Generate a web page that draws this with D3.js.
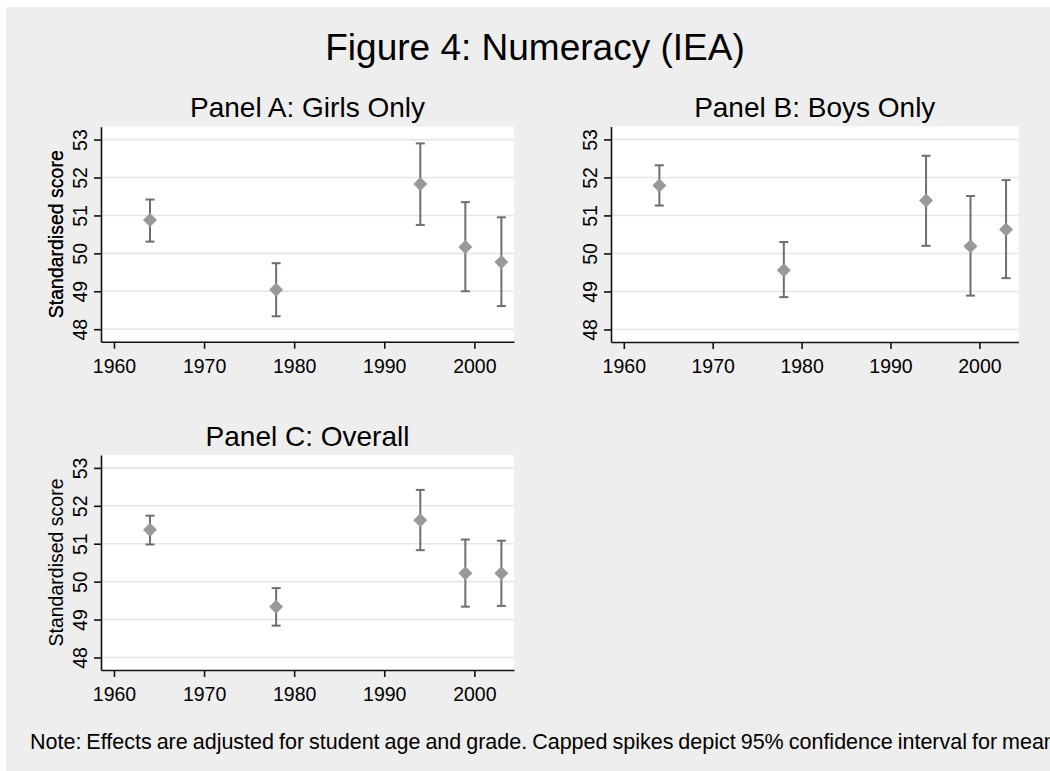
<!DOCTYPE html>
<html>
<head>
<meta charset="utf-8">
<script src="https://cdn.jsdelivr.net/npm/d3@7"></script>
<style>
  html, body { margin: 0; padding: 0; background: #ffffff; }
  svg { display: block; font-family: "Liberation Sans", Arial, sans-serif; }
</style>
</head>
<body>
<svg id="chart"></svg>
<script>
// data
const years = [1964, 1978, 1994, 1999, 2003];
const panelTitles = ["Panel A: Girls Only", "Panel B: Boys Only", "Panel C: Overall"];

const girlsMean = [50.88, 49.04, 51.83, 50.17, 49.77];
const girlsLow  = [50.31, 48.34, 50.75, 49.00, 48.61];
const girlsHigh = [51.42, 49.74, 52.90, 51.35, 50.95];

const boysMean = [51.79, 49.56, 51.39, 50.19, 50.63];
const boysLow  = [51.26, 48.85, 50.20, 48.89, 49.35];
const boysHigh = [52.32, 50.30, 52.57, 51.51, 51.93];

const allMean = [51.37, 49.34, 51.62, 50.22, 50.22];
const allLow  = [50.98, 48.84, 50.83, 49.34, 49.36];
const allHigh = [51.74, 49.83, 52.42, 51.11, 51.08];

const yTicks = [48, 49, 50, 51, 52, 53];
const xTicks = [1960, 1970, 1980, 1990, 2000];

const width = 1050;
const height = 771;

const svg = d3.select("#chart")
  .attr("width", width)
  .attr("height", height);

// outer gray region
svg.append("rect")
  .attr("x", 6)
  .attr("y", 7)
  .attr("width", width)
  .attr("height", height)
  .attr("fill", "#eeeeee");

svg.append("text")
  .attr("x", 535)
  .attr("y", 60)
  .attr("text-anchor", "middle")
  .style("font-size", "37px")
  .style("fill", "#000")
  .text("Figure 4: Numeracy (IEA)");

// plot boxes for each panel
const panels = [
  { title: panelTitles[0], mean: girlsMean, low: girlsLow, high: girlsHigh, left: 101, top: 126.7, w: 413, h: 215 },
  { title: panelTitles[1], mean: boysMean, low: boysLow, high: boysHigh, left: 611, top: 126.5, w: 407.5, h: 215.5 },
  { title: panelTitles[2], mean: allMean, low: allLow, high: allHigh, left: 101, top: 455, w: 413, h: 215 }
];

panels.forEach(p => {
  const xScale = d3.scaleLinear()
    .domain([1958.56, 2004.4])
    .range([p.left, p.left + p.w]);
  const yScale = d3.scaleLinear()
    .domain([47.67, 53.34])
    .range([p.top + p.h, p.top]);

  const g = svg.append("g");

  g.append("rect")
    .attr("x", p.left)
    .attr("y", p.top)
    .attr("width", p.w)
    .attr("height", p.h)
    .attr("fill", "#ffffff");

  //gridlines
  g.selectAll(".grid")
    .data(yTicks)
    .enter()
    .append("line")
    .attr("x1", p.left)
    .attr("x2", p.left + p.w)
    .attr("y1", d => yScale(d))
    .attr("y2", d => yScale(d))
    .attr("stroke", "#e6e6e6")
    .attr("stroke-width", 1.6);

  //axes
  const yAxis = d3.axisLeft(yScale)
    .tickValues(yTicks)
    .tickFormat(d3.format("d"))
    .tickSizeInner(7)
    .tickSizeOuter(0);
  const xAxis = d3.axisBottom(xScale)
    .tickValues(xTicks)
    .tickFormat(d3.format("d"))
    .tickSizeInner(7)
    .tickSizeOuter(0)
    .tickPadding(10);

  const ya = g.append("g")
    .attr("transform", `translate(${p.left}, 0)`)
    .call(yAxis);
  ya.selectAll("text")
    .attr("transform", "rotate(-90)")
    .attr("x", 0)
    .attr("y", -14)
    .attr("dy", 0)
    .style("text-anchor", "middle")
    .style("font-size", "19.5px")
    .style("font-family", "'Liberation Sans', Arial, sans-serif")
    .style("fill", "#000");

  const xa = g.append("g")
    .attr("transform", `translate(0, ${p.top + p.h})`)
    .call(xAxis);
  xa.selectAll("text")
    .style("font-size", "19.5px")
    .style("font-family", "'Liberation Sans', Arial, sans-serif")
    .style("fill", "#000");

  [ya, xa].forEach(a => {
    a.select(".domain").attr("stroke", "#111").attr("stroke-width", 1.6);
    a.selectAll(".tick line").attr("stroke", "#111").attr("stroke-width", 1.6);
  });

  g.append("text")
    .attr("transform", `translate(63, ${p.top + p.h / 2}) rotate(-90)`)
    .attr("text-anchor", "middle")
    .style("font-size", "19.5px")
    .style("fill", "#000")
    .text("Standardised score");

  g.append("text")
    .attr("x", p.left + p.w / 2)
    .attr("y", p.top - 9.5)
    .attr("text-anchor", "middle")
    .style("font-size", "28px")
    .style("fill", "#000")
    .text(p.title);

  //capped spikes
  const rows = years.map((yr, i) => ({ year: yr, mean: p.mean[i], low: p.low[i], high: p.high[i] }));
  const capHalf = 4.5;
  const spike = g.selectAll(".spike")
    .data(rows)
    .enter()
    .append("g");
  spike.append("line")
    .attr("x1", d => xScale(d.year))
    .attr("x2", d => xScale(d.year))
    .attr("y1", d => yScale(d.low))
    .attr("y2", d => yScale(d.high));
  spike.append("line")
    .attr("x1", d => xScale(d.year) - capHalf)
    .attr("x2", d => xScale(d.year) + capHalf)
    .attr("y1", d => yScale(d.high))
    .attr("y2", d => yScale(d.high));
  spike.append("line")
    .attr("x1", d => xScale(d.year) - capHalf)
    .attr("x2", d => xScale(d.year) + capHalf)
    .attr("y1", d => yScale(d.low))
    .attr("y2", d => yScale(d.low));
  spike.selectAll("line")
    .attr("stroke", "#6e6e6e")
    .attr("stroke-width", 2);

  //diamonds
  g.selectAll(".pt")
    .data(rows)
    .enter()
    .append("path")
    .attr("d", d3.symbol(d3.symbolSquare, 98))
    .attr("transform", d => `translate(${xScale(d.year)}, ${yScale(d.mean)}) rotate(45)`)
    .attr("fill", "#999999");
});

svg.append("text")
  .attr("x", 30)
  .attr("y", 749)
  .style("font-size", "21.5px")
  .style("word-spacing", "-1px")
  .style("fill", "#000")
  .text("Note: Effects are adjusted for student age and grade. Capped spikes depict 95% confidence interval for mean");
</script>
</body>
</html>
